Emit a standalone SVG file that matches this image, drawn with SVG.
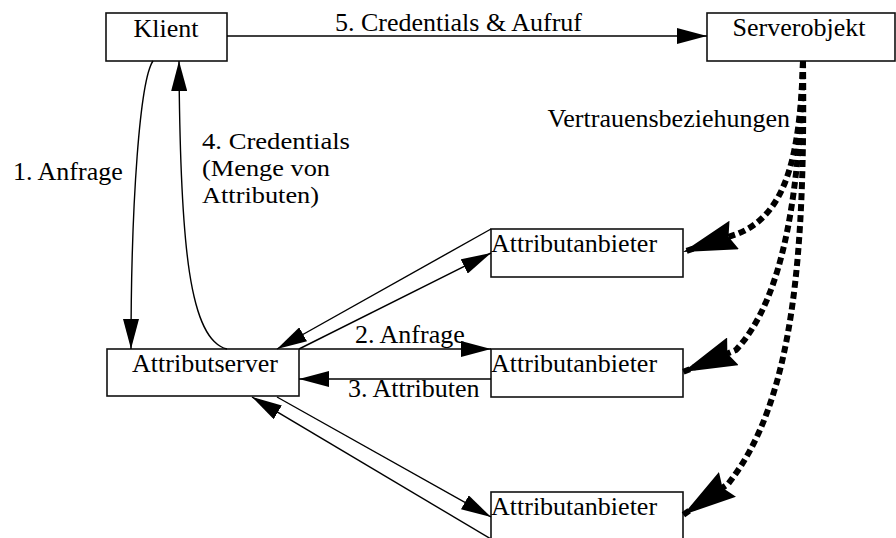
<svg xmlns="http://www.w3.org/2000/svg" width="896" height="538" viewBox="0 0 896 538">
  <style>
    text { font-family: "Liberation Serif", "Times New Roman", serif; font-size: 26px; fill: #000; }
    text.multi { font-size: 24px; }
    .box { fill: #fff; stroke: #111; stroke-width: 1.6; }
    .edge { fill: none; stroke: #000; stroke-width: 1.4; marker-end: url(#arrow); }
    .trust { fill: none; stroke: #000; stroke-width: 6; stroke-dasharray: 7 4; marker-end: url(#bigArrow); }
  </style>
  <defs>
    <marker id="arrow" markerUnits="userSpaceOnUse" markerWidth="30" markerHeight="16" refX="30" refY="8" orient="auto">
      <path d="M0,0 L30,8 L0,16 Z" fill="#000"/>
    </marker>
    <marker id="bigArrow" markerUnits="userSpaceOnUse" markerWidth="54" markerHeight="30" refX="54" refY="15" orient="auto">
      <path d="M0,0 L54,15 L0,30 L6,15 Z" fill="#000"/>
    </marker>
  </defs>

  <!-- nodes -->
  <g id="klient">
    <rect class="box" x="106" y="13" width="121" height="48"/>
    <text x="166" y="37" text-anchor="middle">Klient</text>
  </g>
  <g id="serverobjekt">
    <rect class="box" x="707" y="13" width="188" height="48"/>
    <text x="799" y="36" text-anchor="middle">Serverobjekt</text>
  </g>
  <g id="attributserver">
    <rect class="box" x="107" y="349" width="192" height="47"/>
    <text x="205" y="372" text-anchor="middle">Attributserver</text>
  </g>
  <g id="anbieter1">
    <rect class="box" x="491" y="229" width="192" height="48"/>
    <text x="491" y="252">Attributanbieter</text>
  </g>
  <g id="anbieter2">
    <rect class="box" x="491" y="349" width="192" height="48"/>
    <text x="491" y="372">Attributanbieter</text>
  </g>
  <g id="anbieter3">
    <rect class="box" x="491" y="492" width="192" height="48"/>
    <text x="491" y="515">Attributanbieter</text>
  </g>

  <!-- connectors -->
  <g id="connectors">
    <path class="edge" d="M227,36 L707,36"/>
    <path class="edge" d="M153,61 C140,80 131,200 131,349"/>
    <path class="edge" d="M227,349 C190,340 180,250 179,61"/>
    <path class="edge" d="M299,349 L491,253"/>
    <path class="edge" d="M491,229 L277,349"/>
    <path class="edge" d="M299,349 L491,349"/>
    <path class="edge" d="M491,379 L299,379"/>
    <path class="edge" d="M277,397 L491,517"/>
    <path class="edge" d="M491,539 L252,397"/>
    <path class="trust" d="M803,61 C800,160 785,215 737,234 L683,252"/>
    <path class="trust" d="M803,61 C800,180 787,295 736,350 L683,372"/>
    <path class="trust" d="M803,61 C805,250 795,400 728,484 L683,515"/>
  </g>

  <!-- connector labels -->
  <g id="labels">
    <text x="335" y="31">5. Credentials &amp; Aufruf</text>
    <text x="790" y="127" text-anchor="end">Vertrauensbeziehungen</text>
    <text x="13" y="180">1. Anfrage</text>
    <text class="multi" x="202" y="149" textLength="148" lengthAdjust="spacingAndGlyphs">4. Credentials</text>
    <text class="multi" x="202" y="176" textLength="128" lengthAdjust="spacingAndGlyphs">(Menge von</text>
    <text class="multi" x="202" y="203" textLength="117" lengthAdjust="spacingAndGlyphs">Attributen)</text>
    <text x="355" y="343">2. Anfrage</text>
    <text x="348" y="397">3. Attributen</text>
  </g>
</svg>
